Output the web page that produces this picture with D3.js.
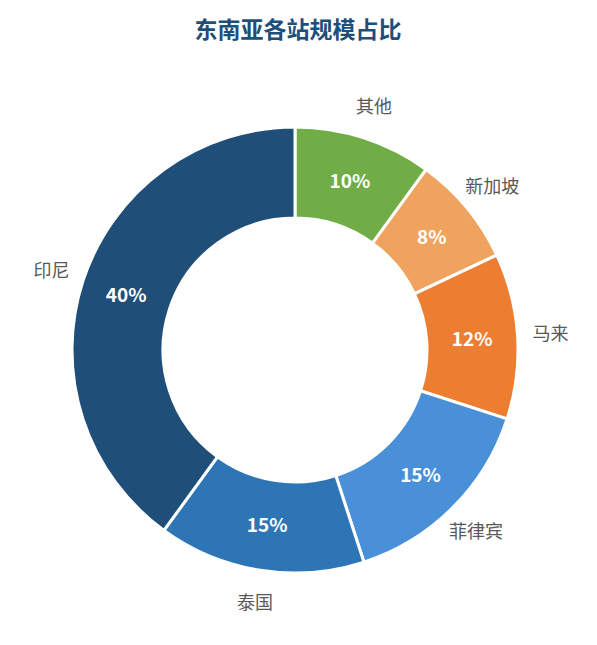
<!DOCTYPE html>
<html><head><meta charset="utf-8">
<script src="https://cdn.jsdelivr.net/npm/d3@7"></script>
<style>body{margin:0;background:#fff;}</style>
</head><body>
<svg id="chart" width="597" height="645"></svg>
<script>
// slice data, clockwise from 12 o'clock
const categories = ["其他", "新加坡", "马来", "菲律宾", "泰国", "印尼"];
const shares = [10, 8, 12, 15, 15, 40];
const colors = ["#70AD47", "#F0A35E", "#ED7D31", "#4A90D9", "#2E75B6", "#1F4E79"];

const svg = d3.select("#chart");
const cx = 295, cy = 350, outerR = 223, innerR = 132;
const font = "'Microsoft YaHei','Noto Sans CJK SC',sans-serif";

svg.append("text")
	.attr("x", 298).attr("y", 38)
	.attr("text-anchor", "middle")
	.attr("font-family", font).attr("font-size", 23).attr("font-weight", "bold")
	.attr("fill", "#1F4E79")
	.text("东南亚各站规模占比");

const pie = d3.pie().sort(null).value(d => d.v);
const arcs = pie(categories.map((c, i) => ({ c, v: shares[i], col: colors[i] })));
const arc = d3.arc().innerRadius(innerR).outerRadius(outerR);
const midArc = d3.arc().innerRadius((innerR + outerR) / 2).outerRadius((innerR + outerR) / 2);
const labelArc = d3.arc().innerRadius(256).outerRadius(256);

const g = svg.append("g").attr("transform", `translate(${cx},${cy})`);

g.selectAll("path.slice").data(arcs).enter().append("path")
	.attr("class", "slice")
	.attr("d", arc)
	.attr("fill", d => d.data.col)
	.attr("stroke", "#fff").attr("stroke-width", 3);

g.selectAll("text.pct").data(arcs).enter().append("text")
	.attr("class", "pct")
	.attr("transform", d => `translate(${midArc.centroid(d)})`)
	.attr("text-anchor", "middle").attr("dy", "0.36em")
	.attr("font-family", font).attr("font-size", 19).attr("font-weight", "bold")
	.attr("fill", "#fff")
	.text(d => d.data.v + "%");

g.selectAll("text.lbl").data(arcs).enter().append("text")
	.attr("class", "lbl")
	.attr("transform", d => `translate(${labelArc.centroid(d)})`)
	.attr("text-anchor", "middle").attr("dy", "0.36em")
	.attr("font-family", font).attr("font-size", 18)
	.attr("fill", "#595959")
	.text(d => d.data.c);
</script>
</body></html>
